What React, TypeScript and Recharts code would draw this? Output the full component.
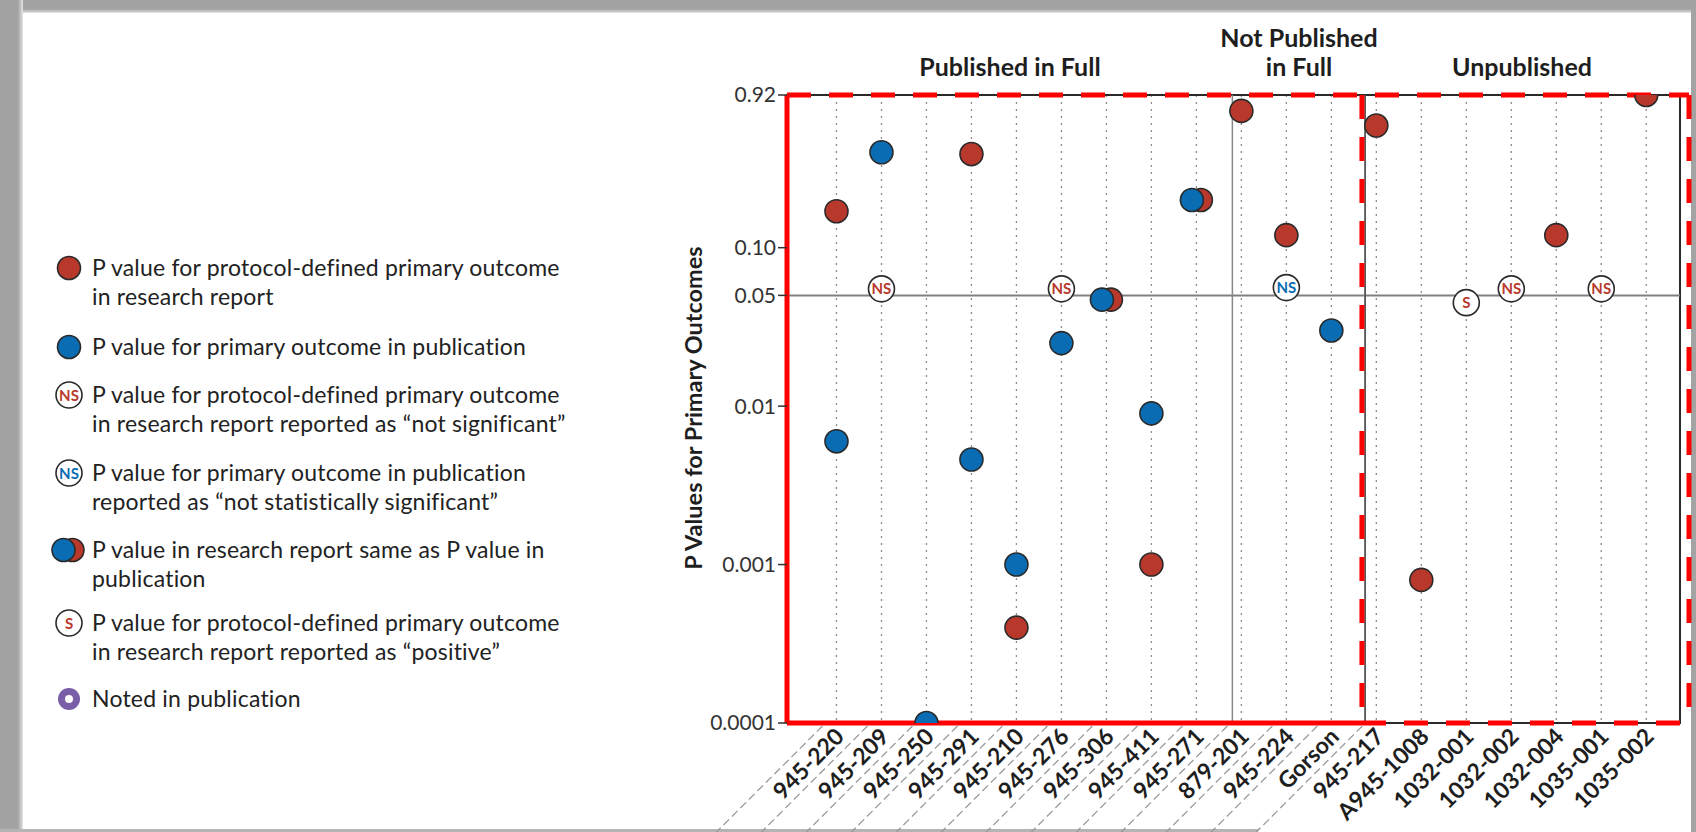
import React from 'react';
import {
  CartesianGrid,
  ReferenceArea,
  ReferenceLine,
  Scatter,
  ScatterChart,
  XAxis,
  YAxis,
} from 'recharts';

// Trial identifiers along the x axis, in drawing order.
const studies = [
  '945-220', '945-209', '945-250', '945-291', '945-210', '945-276', '945-306',
  '945-411', '945-271', '879-201', '945-224', 'Gorson', '945-217', 'A945-1008',
  '1032-001', '1032-002', '1032-004', '1035-001', '1035-002',
];

// P values, one slot per study (null = no marker of that kind).
const reportP = [0.17, null, null, 0.39, 0.0004, null, null, 0.001, null, 0.73, 0.12, null, 0.59, 0.0008, null, null, 0.12, null, 0.92];
const publicationP = [0.006, 0.4, 0.0001, 0.0046, 0.001, 0.025, null, 0.009, null, null, null, 0.03, null, null, null, null, null, null, null];
const sameP = [null, null, null, null, null, null, 0.047, null, 0.2, null, null, null, null, null, null, null, null, null, null];
const nsReportP = [null, 0.055, null, null, null, 0.055, null, null, null, null, null, null, null, null, null, 0.055, null, 0.055, null];
const nsPublicationP = [null, null, null, null, null, null, null, null, null, null, 0.056, null, null, null, null, null, null, null, null];
const positiveReportP = [null, null, null, null, null, null, null, null, null, null, null, null, null, null, 0.045, null, null, null, null];

const pTicks = [0.0001, 0.001, 0.01, 0.05, 0.1, 0.92];
const pTickLabels = ['0.0001', '0.001', '0.01', '0.05', '0.10', '0.92'];

const groupHeaders = [
  { lines: ['Published in Full'], x: 1010 },
  { lines: ['Not Published', 'in Full'], x: 1299 },
  { lines: ['Unpublished'], x: 1522 },
];

const RED = '#b8392c';
const BLUE = '#0a6cb2';
const PURPLE = '#7b5ea8';
const INK = '#2a2a2a';
const FONT = 'Lato, "Open Sans", sans-serif';

const X_DOMAIN: [number, number] = [-1.1, 18.75];
const BOX_SPLIT = 11.68; // x position of the red annotation split
const BOX_RIGHT = 18.95;

function points(values: (number | null)[]) {
  return values
    .map((v, i) => ({ x: i, y: v }))
    .filter((p) => p.y !== null);
}

function Filled({ cx, cy, color }: { cx: number; cy: number; color: string }) {
  return <circle cx={cx} cy={cy} r={11.5} fill={color} stroke={INK} strokeWidth={1.6} />;
}

function Same({ cx, cy }: { cx: number; cy: number }) {
  return (
    <g>
      <circle cx={cx + 4.5} cy={cy} r={11.5} fill={RED} stroke={INK} strokeWidth={1.6} />
      <circle cx={cx - 4.5} cy={cy} r={11.5} fill={BLUE} stroke={INK} strokeWidth={1.6} />
    </g>
  );
}

function Lettered({ cx, cy, color, label }: { cx: number; cy: number; color: string; label: string }) {
  return (
    <g>
      <circle cx={cx} cy={cy} r={13} fill="#fff" stroke={INK} strokeWidth={1.6} />
      <text
        x={cx}
        y={cy + 5.5}
        textAnchor="middle"
        fill={color}
        fontSize={15}
        fontWeight={700}
        fontFamily={FONT}
      >
        {label}
      </text>
    </g>
  );
}

function StudyTick(props: any) {
  const { x, y, payload } = props;
  const i = payload.value as number;
  const px = x + 9;
  const py = y + 15;
  return (
    <g>
      {i <= 12 ? (
        <line
          x1={x - 14}
          y1={y + 3}
          x2={x - 14 - 120}
          y2={y + 3 + 120}
          stroke="#9a9a9a"
          strokeWidth={1.3}
          strokeDasharray="8 4"
        />
      ) : null}
      <text
        x={px}
        y={py}
        transform={`rotate(-45, ${px}, ${py})`}
        textAnchor="end"
        fill="#1e1e1e"
        fontSize={23}
        fontWeight={700}
        fontFamily={FONT}
      >
        {studies[i]}
      </text>
    </g>
  );
}

const legendRows = [
  { y: 268, icon: 'red', lines: ['P value for protocol-defined primary outcome', 'in research report'] },
  { y: 347, icon: 'blue', lines: ['P value for primary outcome in publication'] },
  { y: 395, icon: 'nsRed', lines: ['P value for protocol-defined primary outcome', 'in research report reported as \u201cnot significant\u201d'] },
  { y: 473, icon: 'nsBlue', lines: ['P value for primary outcome in publication', 'reported as \u201cnot statistically significant\u201d'] },
  { y: 550, icon: 'same', lines: ['P value in research report same as P value in', 'publication'] },
  { y: 623, icon: 'sRed', lines: ['P value for protocol-defined primary outcome', 'in research report reported as \u201cpositive\u201d'] },
  { y: 699, icon: 'noted', lines: ['Noted in publication'] },
];

function LegendIcon({ kind }: { kind: string }) {
  const c = 18;
  let mark: React.ReactNode = null;
  if (kind === 'red') mark = <Filled cx={c} cy={c} color={RED} />;
  if (kind === 'blue') mark = <Filled cx={c} cy={c} color={BLUE} />;
  if (kind === 'nsRed') mark = <Lettered cx={c} cy={c} color={RED} label="NS" />;
  if (kind === 'nsBlue') mark = <Lettered cx={c} cy={c} color={BLUE} label="NS" />;
  if (kind === 'sRed') mark = <Lettered cx={c} cy={c} color={RED} label="S" />;
  if (kind === 'same') mark = <Same cx={c - 1} cy={c} />;
  if (kind === 'noted')
    mark = (
      <g>
        <circle cx={c} cy={c} r={11} fill={PURPLE} />
        <circle cx={c} cy={c} r={4} fill="#fff" />
      </g>
    );
  return (
    <svg width={36} height={36} style={{ position: 'absolute', left: 51, top: -18 }}>
      {mark}
    </svg>
  );
}

function Legend() {
  return (
    <div>
      {legendRows.map((row) => (
        <div key={row.y} style={{ position: 'absolute', left: 0, top: row.y }}>
          <LegendIcon kind={row.icon} />
          <div
            style={{
              position: 'absolute',
              left: 92,
              top: -15,
              whiteSpace: 'nowrap',
              fontSize: 23,
              letterSpacing: '0.2px',
              lineHeight: '28.5px',
              color: '#222',
            }}
          >
            {row.lines.map((l) => (
              <div key={l}>{l}</div>
            ))}
          </div>
        </div>
      ))}
    </div>
  );
}

export default function App() {
  const red = 'red';
  const dashed = { stroke: red, strokeWidth: 5, strokeDasharray: '24 18', ifOverflow: 'visible' as const };
  const solid = { stroke: red, strokeWidth: 5, ifOverflow: 'visible' as const };

  return (
    <div
      style={{
        position: 'absolute',
        left: 0,
        top: 0,
        width: 1696,
        height: 832,
        background: '#fff',
        overflow: 'hidden',
        fontFamily: FONT,
      }}
    >
      {/* page frame */}
      <div style={{ position: 'absolute', left: 0, top: 0, width: 1696, height: 13, background: 'linear-gradient(to bottom, #a3a3a3 0%, #a3a3a3 70%, #e4e4e4 100%)' }} />
      <div style={{ position: 'absolute', left: 0, top: 0, width: 23, height: 832, background: 'linear-gradient(to right, #a3a3a3 0%, #a3a3a3 78%, #e4e4e4 100%)' }} />
      <div style={{ position: 'absolute', left: 1691, top: 0, width: 5, height: 832, background: '#a3a3a3' }} />
      <div style={{ position: 'absolute', left: 0, top: 829, width: 1258, height: 3, background: '#b4b4b4' }} />

      <ScatterChart width={1696} height={832} margin={{ top: 95, right: 16, bottom: 0, left: 700 }} style={{ position: 'absolute', left: 0, top: 0 }}>
        <CartesianGrid horizontal={false} stroke="#8c8c8c" strokeDasharray="2 5" strokeWidth={1.3} />
        <XAxis
          type="number"
          dataKey="x"
          domain={X_DOMAIN}
          allowDataOverflow
          ticks={studies.map((_, i) => i)}
          interval={0}
          tick={(p: any) => <StudyTick {...p} />}
          tickLine={false}
          axisLine={false}
          tickSize={0}
          tickMargin={0}
          height={109}
        />
        <YAxis
          type="number"
          dataKey="y"
          scale="log"
          domain={[0.0001, 0.92]}
          allowDataOverflow
          ticks={pTicks}
          interval={0}
          tickFormatter={(v: number) => pTickLabels[pTicks.indexOf(v)] ?? String(v)}
          tick={{ fill: '#333', fontSize: 21, fontFamily: FONT }}
          tickLine={{ stroke: '#333', strokeWidth: 1.5 }}
          tickSize={9}
          tickMargin={2}
          axisLine={false}
          width={87}
        />
        <ReferenceArea x1={X_DOMAIN[0]} x2={X_DOMAIN[1]} y1={0.0001} y2={0.92} fill="none" stroke={INK} strokeWidth={2} />
        <ReferenceLine y={0.05} stroke="#808080" strokeWidth={2} />
        <ReferenceLine x={8.8} stroke="#888" strokeWidth={1.5} />
        <ReferenceLine x={11.75} stroke="#555" strokeWidth={1.8} />

        {/* red highlight boxes */}
        <ReferenceLine segment={[{ x: X_DOMAIN[0], y: 0.92 }, { x: BOX_RIGHT, y: 0.92 }]} {...dashed} />
        <ReferenceLine segment={[{ x: BOX_SPLIT, y: 0.92 }, { x: BOX_SPLIT, y: 0.0001 }]} {...dashed} />
        <ReferenceLine segment={[{ x: BOX_SPLIT, y: 0.0001 }, { x: BOX_RIGHT, y: 0.0001 }]} {...dashed} />
        <ReferenceLine segment={[{ x: BOX_RIGHT, y: 0.92 }, { x: BOX_RIGHT, y: 0.0001 }]} {...dashed} />
        <ReferenceLine segment={[{ x: X_DOMAIN[0], y: 0.92 }, { x: X_DOMAIN[0], y: 0.0001 }]} {...solid} />
        <ReferenceLine segment={[{ x: X_DOMAIN[0], y: 0.0001 }, { x: BOX_SPLIT, y: 0.0001 }]} {...solid} />

        <Scatter data={points(reportP)} isAnimationActive={false} shape={(p: any) => <Filled cx={p.cx} cy={p.cy} color={RED} />} />
        <Scatter data={points(publicationP)} isAnimationActive={false} shape={(p: any) => <Filled cx={p.cx} cy={p.cy} color={BLUE} />} />
        <Scatter data={points(sameP)} isAnimationActive={false} shape={(p: any) => <Same cx={p.cx} cy={p.cy} />} />
        <Scatter data={points(nsReportP)} isAnimationActive={false} shape={(p: any) => <Lettered cx={p.cx} cy={p.cy} color={RED} label="NS" />} />
        <Scatter data={points(nsPublicationP)} isAnimationActive={false} shape={(p: any) => <Lettered cx={p.cx} cy={p.cy} color={BLUE} label="NS" />} />
        <Scatter data={points(positiveReportP)} isAnimationActive={false} shape={(p: any) => <Lettered cx={p.cx} cy={p.cy} color={RED} label="S" />} />
      </ScatterChart>

      {/* group headers */}
      {groupHeaders.map((h) => (
        <div
          key={h.x}
          style={{
            position: 'absolute',
            left: h.x - 150,
            width: 300,
            top: h.lines.length === 2 ? 23 : 52,
            textAlign: 'center',
            fontSize: 25,
            fontWeight: 700,
            lineHeight: '29px',
            color: '#1e1e1e',
          }}
        >
          {h.lines.map((l) => (
            <div key={l}>{l}</div>
          ))}
        </div>
      ))}

      {/* y axis title */}
      <div
        style={{
          position: 'absolute',
          left: 693,
          top: 408,
          transform: 'translate(-50%, -50%) rotate(-90deg)',
          whiteSpace: 'nowrap',
          fontSize: 23.5,
          fontWeight: 700,
          color: '#1e1e1e',
        }}
      >
        P Values for Primary Outcomes
      </div>

      <Legend />
    </div>
  );
}
